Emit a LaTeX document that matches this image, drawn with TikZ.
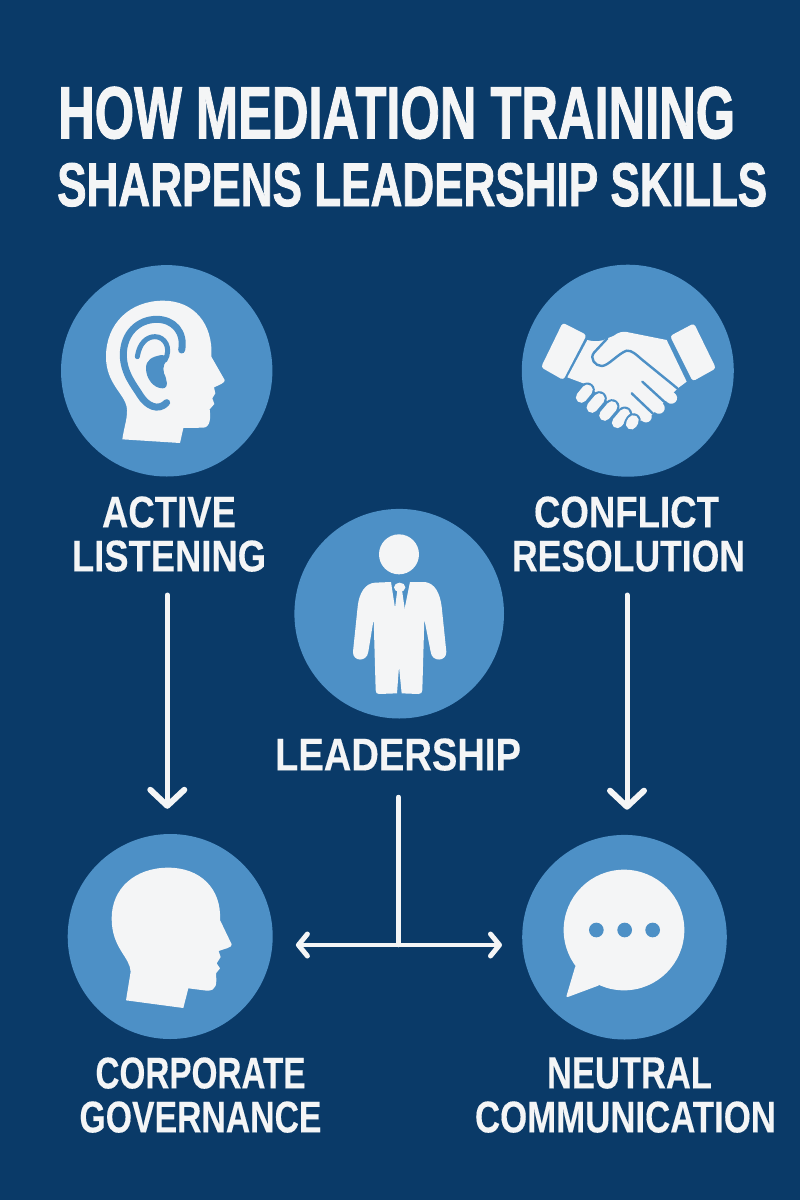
\documentclass[tikz,border=0pt]{standalone}
\usepackage{fontspec}
\usepackage{graphicx}
\usetikzlibrary{arrows.meta}
\setmainfont{Liberation Sans}
\newfontfamily\titlefont{Liberation Sans}[BoldFeatures={FakeBold=1.6}]
\newfontfamily\labelfont{Liberation Sans}[BoldFeatures={FakeBold=0.3}]
\definecolor{navy}{HTML}{0A3A68}
\definecolor{disc}{HTML}{4D90C6}
\definecolor{paper}{HTML}{F4F5F6}
\newcommand{\fitline}[3]{\resizebox{#1pt}{#2pt}{#3}}
\tikzset{
  disc/.style={circle,fill=disc,draw=none,inner sep=0pt},
  titleline/.style={anchor=base west,inner sep=0pt,text=paper,font=\titlefont\bfseries},
  caption/.style={anchor=south,inner sep=0pt,text=paper,align=center,
    font=\labelfont\bfseries\fontsize{30}{44}\selectfont},
  icon/.style={fill=paper,draw=none},
  cut/.style={draw=disc,line cap=round,line join=round},
  link/.style={draw=paper,line width=5pt,line cap=round},
  bigarrow/.style={link,-{Straight Barb[length=16pt,width=34pt,line width=6pt,round]}},
  tee/.style={draw=paper,line width=4.5pt,line cap=round},
  teearrow/.style={tee,-{Straight Barb[length=9pt,width=22pt,line width=5pt,round]}},
}
\begin{document}
\begin{tikzpicture}[x=1pt,y=-1pt]
\useasboundingbox (0,0) rectangle (800,1200);
\fill[navy] (0,0) rectangle (800,1200);

% title
\node[titleline] (t1) at (58,138.3) {\fitline{677}{51.5}{HOW MEDIATION TRAINING}};
\node[titleline] (t2) at (57,206) {\fitline{710}{43}{SHARPENS LEADERSHIP SKILLS}};

% discs
\node[disc,minimum size=211.4pt] (dA) at (166.7,370.8) {};
\node[disc,minimum size=212pt]   (dC) at (627.8,370.7) {};
\node[disc,minimum size=209.6pt] (dL) at (399.2,613.7) {};
\node[disc,minimum size=205pt]   (dG) at (170.2,936.5) {};
\node[disc,minimum size=204.6pt] (dN) at (624.5,937.2) {};

% labels
\node[caption] (lA) at (169,572) {\fitline{134}{31}{ACTIVE}\\\fitline{194}{31}{LISTENING}};
\node[caption] (lC) at (628.5,572) {\mbox{\fitline{185}{31}{CONFLICT}\kern4pt}\\\fitline{233}{31}{RESOLUTION}};
\node[caption] (lL) at (398,771) {\fitline{246}{32}{LEADERSHIP}};
\node[caption] (lG) at (200.5,1133) {\fitline{210}{31}{CORPORATE}\\\fitline{242}{31}{GOVERNANCE}};
\node[caption] (lN) at (625.5,1133) {\mbox{\kern8pt\fitline{165}{31}{NEUTRAL}}\\\fitline{301}{31}{COMMUNICATION}};

% ear head
\begin{scope}[shift={(50,260)},scale=1/3]
\fill[icon] (217,538) .. controls (222,500) and (235,470) .. (230,440)
  .. controls (222,400) and (168,370) .. (168,290)
  .. controls (168,190) and (240,122) .. (340,122)
  .. controls (430,122) and (490,190) .. (484,290)
  -- (524,360) .. controls (527,368) and (505,376) .. (492,382)
  -- (496,400) -- (487,415) -- (493,432) -- (479,448)
  .. controls (482,470) and (482,502) .. (460,503)
  -- (400,504) -- (390,549) -- cycle;
\draw[cut,line width=7pt] (395,270) .. controls (405,215) and (370,178) .. (320,178)
  .. controls (265,178) and (220,220) .. (220,285)
  .. controls (220,340) and (255,380) .. (270,405)
  .. controls (290,438) and (325,455) .. (350,428);
\draw[cut,line width=5pt] (262,290) .. controls (268,250) and (290,230) .. (315,230)
  .. controls (345,230) and (365,265) .. (345,300);
\fill[disc] (335,285) .. controls (305,290) and (288,300) .. (288,325)
  .. controls (288,355) and (310,385) .. (338,385)
  .. controls (358,385) and (350,355) .. (342,340)
  .. controls (336,320) and (345,305) .. (358,290) -- cycle;
\end{scope}

% handshake
\begin{scope}[shift={(510,260)},scale=1/3]
\fill[icon,rounded corners=3pt] (158,188) -- (230,225) -- (160,360) -- (93,322) -- cycle;
\fill[icon,rounded corners=3pt] (480,228) -- (552,190) -- (618,325) -- (548,364) -- cycle;
\fill[icon] (172,352) -- (232,240) .. controls (255,246) and (275,245) .. (292,235)
  -- (310,228) .. controls (325,216) and (340,214) .. (350,216) -- (470,240) -- (530,365) -- (503,385)
  -- (420,470) -- (375,490) -- (225,372) -- cycle;
\draw[draw=paper,line width=11.5pt,line cap=round] (400,345) -- (484,414);
\draw[draw=paper,line width=11.5pt,line cap=round] (372,378) -- (447,444);
\draw[draw=paper,line width=11.5pt,line cap=round] (340,410) -- (408,470);
\draw[cut,line width=2.4pt] (292,235) -- (252,278) .. controls (238,295) and (255,318) .. (275,318)
  .. controls (295,318) and (325,280) .. (350,272)
  .. controls (365,270) and (380,285) .. (395,298) -- (502,385);
\draw[cut,line width=2.4pt] (397,365) -- (468,430);
\draw[cut,line width=2.4pt] (365,400) -- (428,460);
\foreach \a/\b/\c/\d in {232/390/214/412, 268/416/246/442, 306/440/284/466, 344/462/322/488, 370/482/364/492}{
  \draw[draw=disc,line width=15pt,line cap=round] (\a,\b) -- (\c,\d);
  \draw[draw=paper,line width=11pt,line cap=round] (\a,\b) -- (\c,\d);
}
\end{scope}

% person
\begin{scope}[shift={(285,500)},scale=1/3]
\fill[icon] (342,163) circle[radius=60pt];
\fill[icon] (270,248) -- (318,246) -- (331,330) -- (358,330) -- (375,246) -- (420,246)
  .. controls (450,250) and (465,280) .. (470,320)
  -- (484,455) .. controls (486,485) and (440,488) .. (437,455)
  -- (418,358) -- (412,570) .. controls (412,578) and (408,582) .. (400,582)
  -- (350,580) -- (342,500) -- (336,580) -- (282,582)
  .. controls (275,582) and (272,578) .. (272,570)
  -- (266,358) -- (250,455) .. controls (246,488) and (202,485) .. (204,455)
  -- (218,320) .. controls (222,280) and (240,250) .. (270,248) -- cycle;
\fill[icon] (344,262) ellipse[x radius=17pt,y radius=14pt];
\fill[icon] (337,270) -- (351,270) -- (360,332) -- (329,332) -- cycle;
\end{scope}

% plain head
\begin{scope}[shift={(60,825)},scale=1/3]
\fill[icon] (198,526) -- (212,440) .. controls (210,395) and (155,370) .. (155,280)
  .. controls (155,190) and (225,128) .. (325,128)
  .. controls (420,128) and (485,190) .. (480,285)
  -- (515,358) .. controls (518,368) and (490,372) .. (476,378)
  -- (482,396) -- (470,415) -- (480,430) -- (468,445)
  .. controls (470,475) and (472,498) .. (440,497)
  -- (385,490) -- (370,549) -- cycle;
\end{scope}

% speech bubble
\begin{scope}[shift={(510,825)},scale=1/3]
\fill[icon] (342,315) circle[radius=181pt];
\fill[icon,rounded corners=2pt] (197,420) -- (168,518) -- (270,480) -- cycle;
\foreach \x in {259,344,428}{\fill[disc] (\x,315) circle[radius=22pt];}
\end{scope}

% connectors
\coordinate (aTop) at ([xshift=-1.7pt]lA.south);
\coordinate (cTop) at ([xshift=-1.5pt]lC.south);
\coordinate (lTop) at ([xshift=0.5pt]lL.south);
\coordinate (junction) at (lTop |- 0,945);
\draw[bigarrow,shorten <=23pt,shorten >=25pt] (aTop) -- (aTop |- dG.north);
\draw[bigarrow,shorten <=23pt,shorten >=25pt] (cTop) -- (cTop |- dN.north);
\draw[tee,shorten <=26pt] (lTop) -- (junction);
\draw[teearrow,shorten >=23pt] (junction) -- (junction -| dG.east);
\draw[teearrow,shorten >=20pt] (junction) -- (junction -| dN.west);
\end{tikzpicture}
\end{document}
